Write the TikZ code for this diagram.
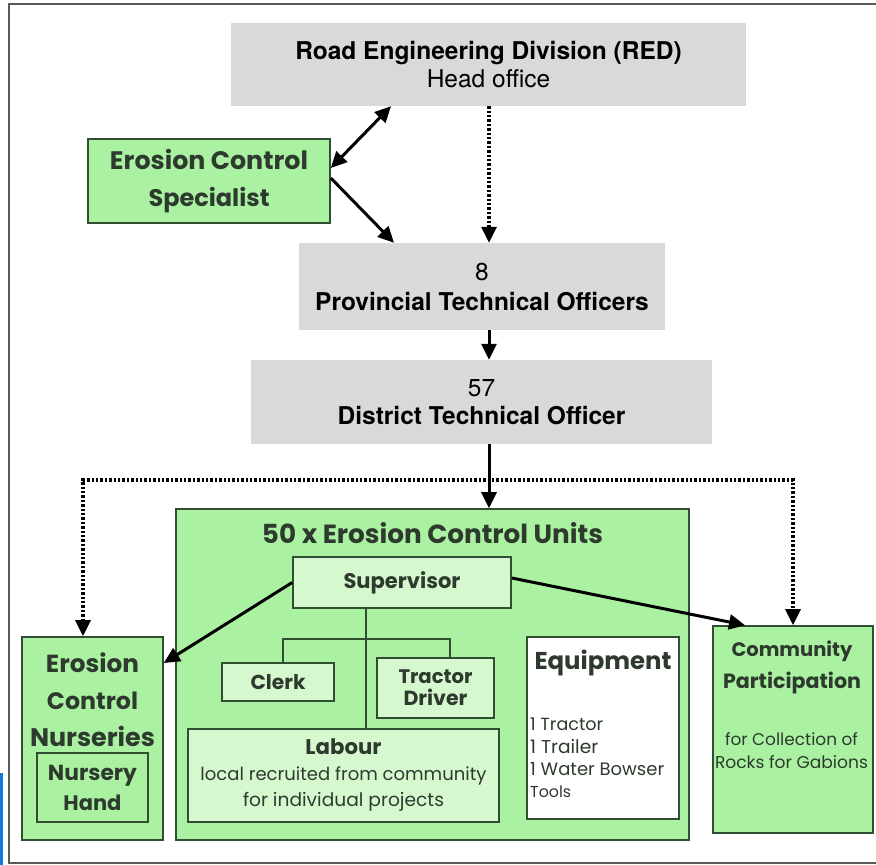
\documentclass[tikz,border=0pt]{standalone}
\usepackage{fontspec}
\usepackage{graphicx}
\usetikzlibrary{arrows.meta,calc}
\newfontfamily\hel{TeX Gyre Heros}
\newfontfamily\adv{Poppins}
\definecolor{gfill}{RGB}{170,242,162}
\definecolor{glight}{RGB}{214,248,206}
\definecolor{gdraw}{RGB}{50,78,50}
\definecolor{gtext}{RGB}{46,58,46}
\definecolor{gbox}{RGB}{217,217,217}
\definecolor{framecol}{RGB}{90,90,90}
\definecolor{artblue}{RGB}{20,120,220}
\newcommand\twd[2]{\resizebox{#1pt}{!}{#2}}
\begin{document}
\begin{tikzpicture}[x=1pt,y=-1pt,
  graybox/.style={fill=gbox, draw=none, inner sep=0pt, align=center, text=black},
  gbx/.style={fill=gfill, draw=gdraw, line width=1.6pt, inner sep=0pt, align=center, text=gtext},
  glb/.style={gbx, fill=glight},
  wbx/.style={gbx, fill=white},
  txt/.style={inner sep=0pt, align=center, text=gtext},
  hfont/.style={font=\hel\fontsize{24.5}{28}\selectfont},
  afont/.style={font=\adv\bfseries\fontsize{20}{#1}\selectfont},
  arr/.style={line width=3pt, black},
  tip/.tip={Triangle[length=16pt,width=15pt]},
  dotl/.style={line width=3.2pt, black, dash pattern=on 2.4pt off 2pt},
  treel/.style={line width=1.5pt, gdraw}
]
\useasboundingbox (0,0) rectangle (876,865);
% frame
\draw[framecol, line width=2pt] (880,4) -- (9,4) -- (9,863) -- (880,863);
\fill[artblue] (0,773) rectangle (3,865);

% gray boxes
\node[graybox, hfont, minimum width=515pt, minimum height=83pt] (red) at (488.5,64.5)
  {{\bfseries Road Engineering Division (RED)}\\Head office};
\node[graybox, font=\hel\fontsize{24.5}{30}\selectfont, minimum width=366pt, minimum height=87pt] (pto) at (482,286.5)
  {8\\{\bfseries Provincial Technical Officers}};
\node[graybox, hfont, minimum width=461pt, minimum height=84pt] (dto) at (481.5,402)
  {57\\{\bfseries District Technical Officer}};

% specialist
\node[gbx, afont=37, minimum width=242pt, minimum height=84pt] (ecs) at (209,181)
  {\twd{198}{Erosion Control}\\\twd{121}{Specialist}};

% erosion control units
\node[gbx, minimum width=513pt, minimum height=331pt] (ecu) at (432.5,674.5) {};
\node[txt, afont=24] (ecut) at (432.5,533) {\twd{341}{50 x Erosion Control Units}};
\node[glb, afont=24, minimum width=218pt, minimum height=51pt] (sup) at (402,582.5) {\twd{117}{Supervisor}};
\node[glb, afont=24, minimum width=112pt, minimum height=38pt] (clerk) at (278,682) {\twd{55}{Clerk}};
\node[glb, afont=22, minimum width=117pt, minimum height=60pt] (tractor) at (435.5,688)
  {\twd{74}{Tractor}\\\twd{64}{Driver}};
\node[glb, afont=26, minimum width=311pt, minimum height=93pt] (labour) at (343.5,775.5)
  {\twd{76}{Labour}\\\twd{286}{\mdseries local recruited from community}\\\twd{201}{\mdseries for individual projects}};
\node[wbx, minimum width=152pt, minimum height=182pt] (equip) at (603,728) {};
\node[txt, afont=24] (eqt) at (603,663) {\twd{137}{Equipment}};
\node[txt, afont=22.3, align=left, anchor=north west] (eqi) at (530,718)
  {\twd{73}{\mdseries 1 Tractor}\\\twd{68}{\mdseries 1 Trailer}\\\twd{134}{\mdseries 1 Water Bowser}\\\twd{41}{\mdseries Tools}};

% nurseries
\node[gbx, minimum width=141pt, minimum height=203pt] (ecn) at (92.5,738.5) {};
\node[txt, afont=37] (ecnt) at (92.5,700) {\twd{93}{Erosion}\\\twd{91}{Control}\\\twd{125}{Nurseries}};
\node[gbx, afont=30, minimum width=111pt, minimum height=69pt] (nh) at (92.5,787.5) {\twd{89}{Nursery}\\\twd{58}{Hand}};

% community
\node[gbx, minimum width=160pt, minimum height=207pt] (comm) at (793,729.5) {};
\node[txt, afont=32] (commt) at (792,667) {\twd{121}{Community}\\\twd{138}{Participation}};
\node[txt, afont=23] (comms) at (791.5,750.5) {\twd{133}{\mdseries for Collection of}\\\twd{153}{\mdseries Rocks for Gabions}};

% connectors
\draw[arr, {tip}-{tip}] (391,0 |- red.south) -- (ecs.east |- 0,168);
\draw[arr, -{tip}] (ecs.east |- 0,178) -- (394,0 |- pto.north);
\draw[dotl, -{tip}] (489,0 |- red.south) -- (489,0 |- pto.north);
\draw[arr, -{tip}] (489,0 |- pto.south) -- (489,0 |- dto.north);
\draw[arr, -{tip}] (489,0 |- dto.south) -- (489,0 |- ecu.north);
\draw[dotl, {tip}-{tip}] (83,0 |- ecn.north) -- (83,480) -- (793,480) -- (793,0 |- comm.north);
\draw[arr, -{tip}] (sup.west) -- (ecn.east |- 0,663);
\draw[arr, -{tip}] (sup.east |- 0,578) -- (745,0 |- comm.north);

% tree
\coordinate (tj) at (366,639);
\coordinate (tl) at (283,639);
\coordinate (tr) at (450,639);
\draw[treel] (tj |- sup.south) -- (tj |- labour.north);
\draw[treel] (tl |- clerk.north) -- (tl) -- (tr) -- (tr |- tractor.north);
\end{tikzpicture}
\end{document}
